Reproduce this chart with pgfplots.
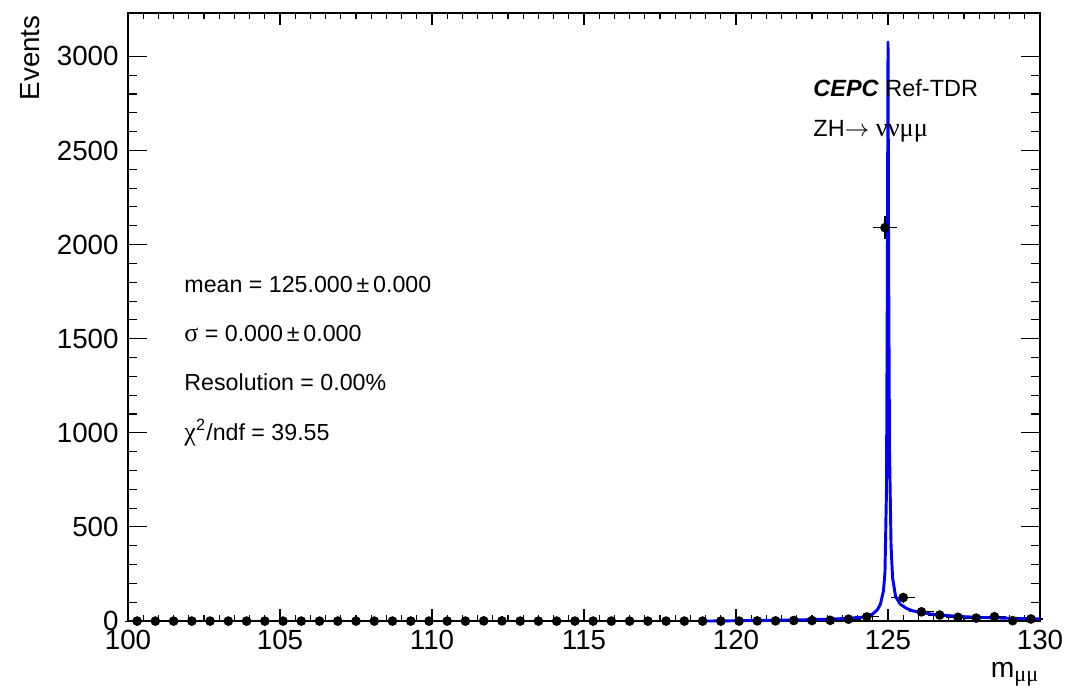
\documentclass[border=0pt]{standalone}
\usepackage{fontspec}
\setmainfont{Liberation Sans}
\newfontfamily\grk[Scale=1.12]{Liberation Serif}
\usepackage{pgfplots}
\pgfplotsset{compat=1.18}
\usetikzlibrary{calc}

\definecolor{fitblue}{RGB}{0,0,255}

% histogram: bin centre, content, x error, sqrt(N)
\pgfplotstableread{
x     y     ex   ey
100.3 0     0.3  0
100.9 0     0.3  0
101.5 0     0.3  0
102.1 0     0.3  0
102.7 0     0.3  0
103.3 0     0.3  0
103.9 0     0.3  0
104.5 0     0.3  0
105.1 0     0.3  0
105.7 0     0.3  0
106.3 0     0.3  0
106.9 0     0.3  0
107.5 0     0.3  0
108.1 0     0.3  0
108.7 0     0.3  0
109.3 0     0.3  0
109.9 0     0.3  0
110.5 0     0.3  0
111.1 0     0.3  0
111.7 1     0.3  1.0
112.3 1     0.3  1.0
112.9 0     0.3  0
113.5 0     0.3  0
114.1 0     0.3  0
114.7 0     0.3  0
115.3 0     0.3  0
115.9 0     0.3  0
116.5 0     0.3  0
117.1 0     0.3  0
117.7 0     0.3  0
118.3 0     0.3  0
118.9 0     0.3  0
119.5 0     0.3  0
120.1 0     0.3  0
120.7 1     0.3  1.0
121.3 1     0.3  1.0
121.9 3     0.3  1.7
122.5 3     0.3  1.7
123.1 4     0.3  2.0
123.7 10    0.3  3.2
124.3 22    0.3  4.7
124.9 2090  0.3  45.7
125.5 125   0.3  11.2
126.1 49    0.3  7.0
126.7 32    0.3  5.7
127.3 20    0.3  4.5
127.9 16    0.3  4.0
128.5 23    0.3  4.8
129.1 2     0.3  1.4
129.7 11    0.3  3.3
}\histdata

% fitted curve
\pgfplotstableread{
x      y
118.9  0
119.5  1
120.0  2
120.5  3
121.0  4
121.5  5
122.0  6
122.5  8
123.0  10
123.5  13
124.0  18
124.3  24
124.5  38
124.65 60
124.75 90
124.85 160
124.9  260
124.95 700
124.98 1900
125.0  3076
125.02 1900
125.05 900
125.1  400
125.15 230
125.25 130
125.4  90
125.6  68
125.8  55
126.0  48
126.4  38
126.8  31
127.3  25
127.8  21
128.5  17
129.2  14
130.0  12
}\fitdata

\begin{document}
\begin{tikzpicture}
\begin{axis}[
    scale only axis,
    width=342pt, height=228pt,
    xmin=100, xmax=130,
    ymin=0, ymax=3230,
    xtick={100,105,...,130},
    ytick={0,500,...,3000},
    minor x tick num=9,
    minor y tick num=4,
    tick align=inside,
    xtick pos=both, ytick pos=both,
    axis line style={line width=0.6pt},
    tick style={line width=0.4pt, black},
    x tick style={/pgfplots/major tick length=4.5pt, /pgfplots/minor tick length=2.2pt},
    y tick style={/pgfplots/major tick length=7pt, /pgfplots/minor tick length=3.5pt},
    tick label style={font=\fontsize{10.4}{12}\selectfont},
    /pgf/number format/assume math mode=true,
    /pgf/number format/1000 sep={},
    clip=false,
]
\addplot+[only marks, mark=*, black, mark size=1.6pt,
    mark options={fill=black, draw=black},
    error bars/.cd,
    x dir=both, x explicit,
    y dir=both, y explicit,
    error bar style={line width=0.4pt, black},
    error mark options={line width=0.4pt, mark size=1.1pt, black}]
    table[x=x, y=y, x error=ex, y error=ey] {\histdata};
\addplot[fitblue, line width=1.1pt, line join=round] table[x=x, y=y] {\fitdata};

\node[anchor=base west, inner sep=0, font=\fontsize{8.8}{10}\selectfont]
    at (axis cs:122.53,2787) {\textbf{\textit{CEPC}} Ref-TDR};
\node[anchor=base west, inner sep=0, font=\fontsize{8.8}{10}\selectfont]
    at (axis cs:122.53,2574) {ZH$\rightarrow$ {\grk νν}{\grk μμ}};

\node[anchor=base west, inner sep=0, font=\fontsize{8.7}{10}\selectfont]
    at (axis cs:101.84,1745) {mean = 125.000\,±\,0.000};
\node[anchor=base west, inner sep=0, font=\fontsize{8.7}{10}\selectfont]
    at (axis cs:101.84,1484) {{\grk σ} = 0.000\,±\,0.000};
\node[anchor=base west, inner sep=0, font=\fontsize{8.7}{10}\selectfont]
    at (axis cs:101.84,1223) {Resolution = 0.00\%};
\node[anchor=base west, inner sep=0, font=\fontsize{8.7}{10}\selectfont]
    at (axis cs:101.84,957) {{\grk χ}\textsuperscript{2}/ndf = 39.55};

\node[rotate=90, anchor=east, inner sep=0, font=\fontsize{10.4}{12}\selectfont]
    at (axis description cs:-0.1075,0.997) {Events};
\node[anchor=base east, inner sep=0, font=\fontsize{10.6}{12}\selectfont]
    at (axis description cs:1.0,-0.092) {m\textsubscript{\grk μμ}};
\end{axis}
\pgfresetboundingbox
\path ($(current axis.south west)+(-48pt,-25.1pt)$) rectangle ($(current axis.north east)+(10.5pt,4.9pt)$);
\end{tikzpicture}
\end{document}
